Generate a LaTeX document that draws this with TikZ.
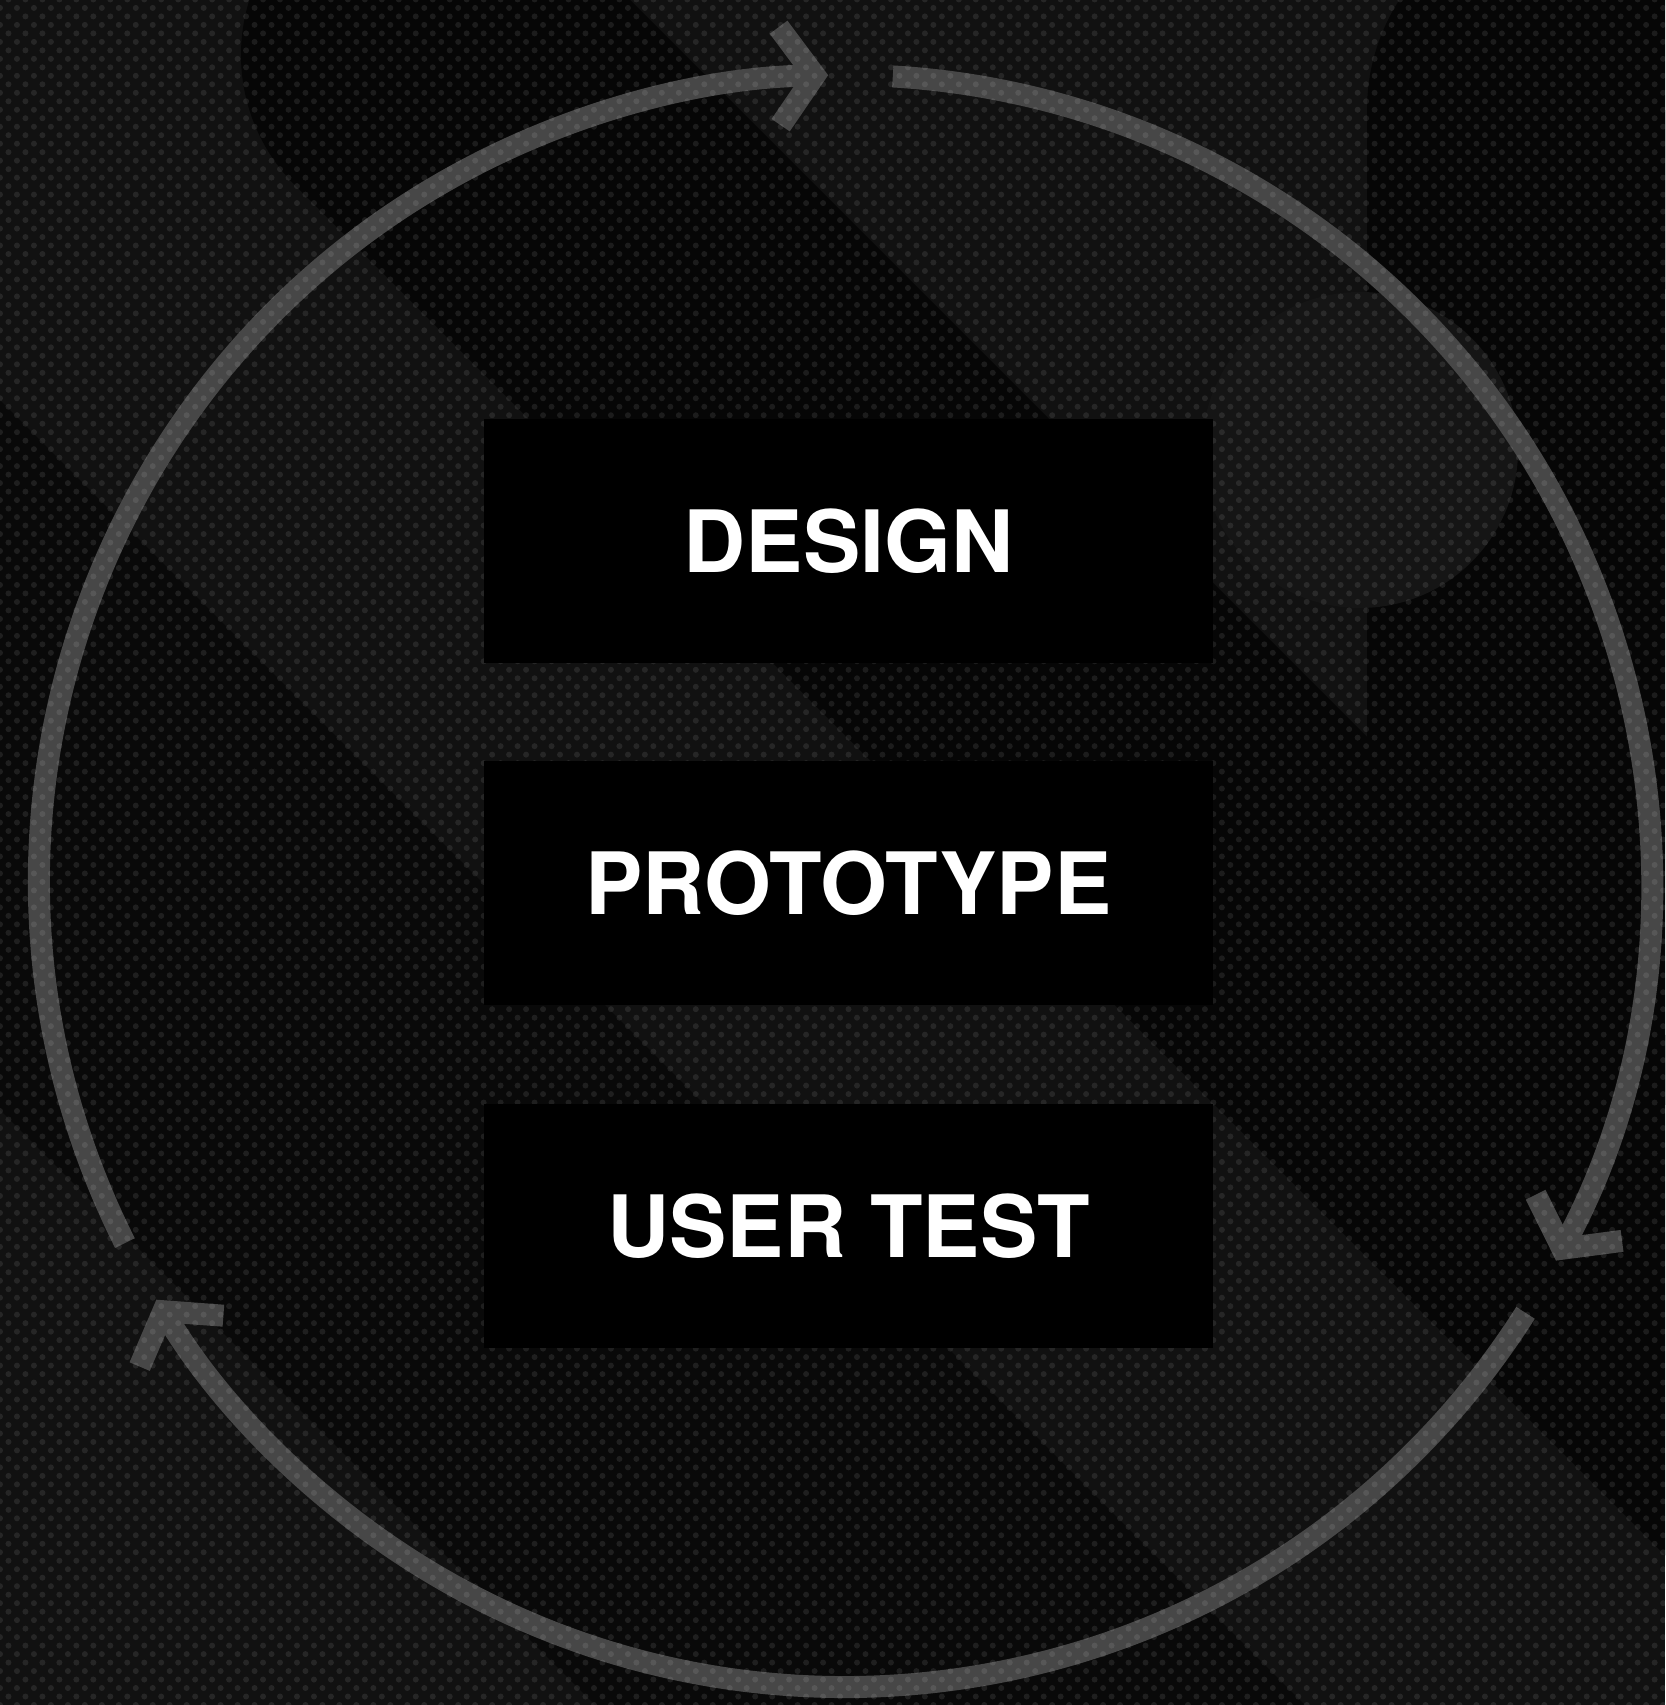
\documentclass[tikz,border=0pt]{standalone}
\usepackage{fontspec}
\setmainfont{TeX Gyre Heros}
\usetikzlibrary{arrows.meta,patterns.meta}
\definecolor{bgbase}{HTML}{111111}
\definecolor{bgdark}{HTML}{060606}
\definecolor{bglight}{HTML}{151515}
\definecolor{cyclegray}{HTML}{474747}
\begin{document}
\begin{tikzpicture}[x=1pt, y=1pt,
  stage/.style={fill=black, text=white, inner sep=0pt, minimum width=729pt, minimum height=244pt, font=\fontsize{86}{86}\selectfont\bfseries},
  cyclearc/.style={draw=cyclegray, line width=22pt, -{Straight Barb[length=35pt, width=98pt, sharp]}}]
\useasboundingbox (0,0) rectangle (1665,1705);
\clip (0,0) rectangle (1665,1705);
\fill[bgbase] (0,0) rectangle (1665,1705);
\draw[bgdark, line width=368pt, line cap=round] (425,1650) -- (2325,-250);
\draw[bgdark!75!bgbase, line width=502pt] (-300,1250) -- (1250,-300);
\fill[bgdark] (1570,1595) circle[radius=203pt];
\fill[bgdark] (1367,1595) rectangle (1773,600);
\fill[bglight] (1360,1255) circle[radius=158pt];
\coordinate (O) at (845,824);
\path (O) ++(86.6:806) coordinate (A_0);
\path (O) ++(-32.4:806) coordinate (A_1);
\path (O) ++(-153.3:806) coordinate (A_2);
\draw[cyclearc] (A_0) arc[start angle=86.6, end angle=-28.1, radius=806pt];
\draw[cyclearc] (A_1) arc[start angle=-32.4, end angle=-148.7, radius=806pt];
\draw[cyclearc] (A_2) arc[start angle=-153.3, end angle=-268.8, radius=806pt];
\fill[pattern={Dots[distance=12pt, radius=3pt, angle=45]}, pattern color=white, fill opacity=0.09] (0,0) rectangle (1665,1705);
\node[stage] (S_0) at (848.5,1164) {DESIGN};
\node[stage] (S_1) at (848.5,821.5) {PROTOTYPE};
\node[stage] (S_2) at (848.5,478.5) {USER TEST};
\end{tikzpicture}
\end{document}
